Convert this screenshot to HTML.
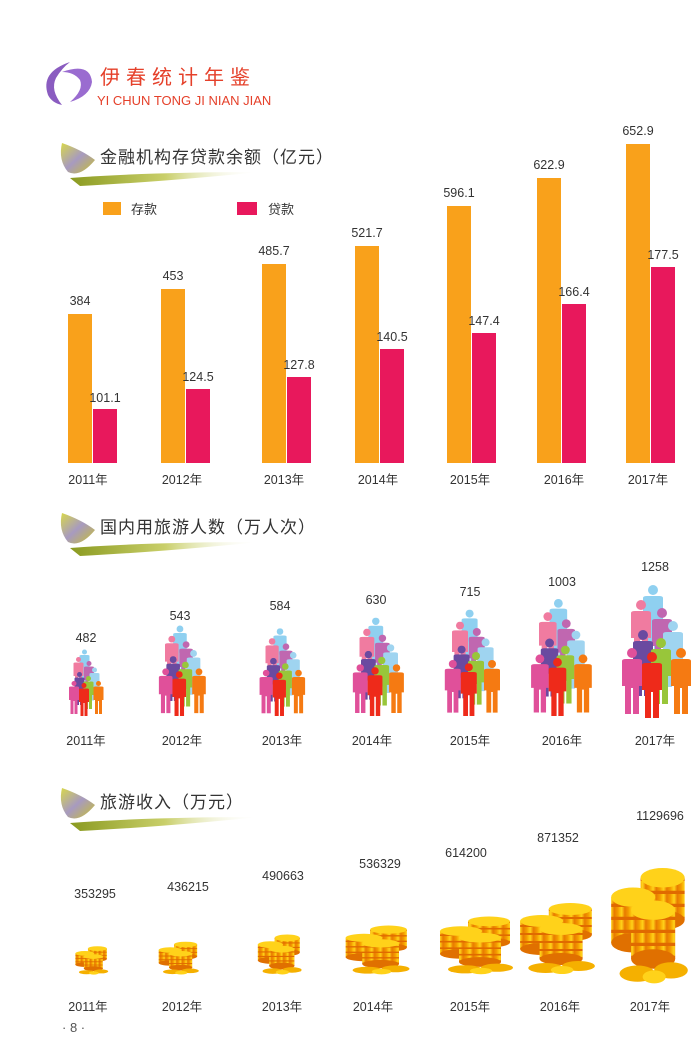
<!DOCTYPE html>
<html><head><meta charset="utf-8"><style>
html,body{margin:0;padding:0;background:#fff;}
svg{display:block;}
text{font-family:"Liberation Sans","Noto Sans CJK SC",sans-serif;}
</style></head><body>
<svg width="700" height="1060" viewBox="0 0 700 1060" xmlns="http://www.w3.org/2000/svg">
<defs>
<linearGradient id="sw" x1="0" x2="1"><stop offset="0" stop-color="#8a9a20"/><stop offset="0.5" stop-color="#c9cf6a"/><stop offset="1" stop-color="#fff" stop-opacity="0"/></linearGradient>
<linearGradient id="leaf" x1="0" y1="0" x2="1" y2="1"><stop offset="0" stop-color="#d8d84a"/><stop offset="0.5" stop-color="#a79ac0"/><stop offset="1" stop-color="#c8c030"/></linearGradient>
<linearGradient id="cs" x1="0" x2="1"><stop offset="0" stop-color="#f7a600"/><stop offset="0.3" stop-color="#ffd21a"/><stop offset="0.6" stop-color="#e87a00"/><stop offset="1" stop-color="#f5a000"/></linearGradient>
<pattern id="st" width="10" height="8" patternUnits="userSpaceOnUse"><rect width="10" height="8" fill="url(#cs)"/><rect y="6" width="10" height="2" fill="#e06a00"/></pattern>
<symbol id="p" viewBox="0 0 24 66">
<circle cx="12" cy="5" r="5"/>
<path d="M2 13 Q2 11 6 11 H18 Q22 11 22 13 V38 H19 V66 H13 V40 H11 V66 H5 V38 H2 Z"/>
</symbol>
<symbol id="pile" viewBox="0 0 80 80" preserveAspectRatio="none">
<rect x="31" y="14" width="42" height="26" fill="url(#st)"/><ellipse cx="52" cy="40" rx="21" ry="6" fill="#e07000"/><ellipse cx="52" cy="14" rx="21" ry="6" fill="#ffd21a"/>
<rect x="3" y="26" width="42" height="28" fill="url(#st)"/><ellipse cx="24" cy="54" rx="21" ry="6" fill="#e07000"/><ellipse cx="24" cy="26" rx="21" ry="6" fill="#ffd21a"/>
<rect x="22" y="34" width="42" height="30" fill="url(#st)"/><ellipse cx="43" cy="64" rx="21" ry="6" fill="#e07000"/><ellipse cx="43" cy="34" rx="21" ry="6" fill="#ffd21a"/>
<ellipse cx="28" cy="73" rx="17" ry="5" fill="#f5b000"/><ellipse cx="60" cy="71" rx="16" ry="5" fill="#f5b000"/><ellipse cx="44" cy="75" rx="11" ry="4" fill="#ffd21a"/>
</symbol>
<g id="crowd">
<use href="#p" x="-15" y="-133" width="24" height="66" fill="#8fd0f0"/>
<use href="#p" x="-27" y="-118" width="24" height="66" fill="#f07ba0"/>
<use href="#p" x="-6" y="-110" width="24" height="66" fill="#c067b0"/>
<use href="#p" x="5" y="-97" width="24" height="66" fill="#9fd4f0"/>
<use href="#p" x="-25" y="-88" width="24" height="66" fill="#6a4aa0"/>
<use href="#p" x="-7" y="-80" width="24" height="66" fill="#98c63a"/>
<use href="#p" x="-36" y="-70" width="24" height="66" fill="#e0509a"/>
<use href="#p" x="-16" y="-66" width="24" height="66" fill="#ee2a1a"/>
<use href="#p" x="13" y="-70" width="24" height="66" fill="#f57a12"/>
</g>
<g id="head">
<path d="M62 143 Q58 160 68 172 Q80 178 95 160 Q82 150 62 143 Z" fill="url(#leaf)"/>
<path d="M70 178 Q150 172 260 172 Q160 182 80 186 Z" fill="url(#sw)"/>
</g>
</defs>

<path d="M70 62 Q40 72 48 95 Q52 103 62 105 Q50 90 56 78 Q62 68 70 62 Z" fill="#8a5cc0"/>
<path d="M62 72 Q90 62 92 82 Q90 96 70 102 Q84 90 80 80 Q74 72 62 72 Z" fill="#9a6cd0"/>
<text x="100" y="84" font-size="20" fill="#e5402a" letter-spacing="6">伊春统计年鉴</text>
<text x="97" y="105" font-size="13" fill="#e5402a">YI CHUN TONG JI NIAN JIAN</text>

<use href="#head"/>
<text x="100" y="163" font-size="17" fill="#333" letter-spacing="1">金融机构存贷款余额（亿元）</text>
<rect x="103" y="202" width="18" height="13" fill="#f9a11b"/><text x="131" y="214" font-size="13" fill="#333">存款</text>
<rect x="237" y="202" width="20" height="13" fill="#e8185c"/><text x="268" y="214" font-size="13" fill="#333">贷款</text>
<g font-size="12.5" fill="#333" text-anchor="middle">
<rect x="68" y="314" width="24" height="149" fill="#f9a11b"/><rect x="93" y="409" width="24" height="54" fill="#e8185c"/>
<text x="80" y="305">384</text><text x="105" y="402">101.1</text><text x="88" y="484">2011年</text>
<rect x="161" y="289" width="24" height="174" fill="#f9a11b"/><rect x="186" y="389" width="24" height="74" fill="#e8185c"/>
<text x="173" y="280">453</text><text x="198" y="381">124.5</text><text x="182" y="484">2012年</text>
<rect x="262" y="264" width="24" height="199" fill="#f9a11b"/><rect x="287" y="377" width="24" height="86" fill="#e8185c"/>
<text x="274" y="255">485.7</text><text x="299" y="369">127.8</text><text x="284" y="484">2013年</text>
<rect x="355" y="246" width="24" height="217" fill="#f9a11b"/><rect x="380" y="349" width="24" height="114" fill="#e8185c"/>
<text x="367" y="237">521.7</text><text x="392" y="341">140.5</text><text x="378" y="484">2014年</text>
<rect x="447" y="206" width="24" height="257" fill="#f9a11b"/><rect x="472" y="333" width="24" height="130" fill="#e8185c"/>
<text x="459" y="197">596.1</text><text x="484" y="325">147.4</text><text x="470" y="484">2015年</text>
<rect x="537" y="178" width="24" height="285" fill="#f9a11b"/><rect x="562" y="304" width="24" height="159" fill="#e8185c"/>
<text x="549" y="169">622.9</text><text x="574" y="296">166.4</text><text x="564" y="484">2016年</text>
<rect x="626" y="144" width="24" height="319" fill="#f9a11b"/><rect x="651" y="267" width="24" height="196" fill="#e8185c"/>
<text x="638" y="135">652.9</text><text x="663" y="259">177.5</text><text x="648" y="484">2017年</text>
</g>

<use href="#head" transform="translate(0,370)"/>
<text x="100" y="533" font-size="17" fill="#333" letter-spacing="1">国内用旅游人数（万人次）</text>
<g font-size="12.5" fill="#333" text-anchor="middle">
<use href="#crowd" transform="translate(86,716) scale(0.5)"/><text x="86" y="642">482</text><text x="86" y="745">2011年</text>
<use href="#crowd" transform="translate(182,716) scale(0.68)"/><text x="180" y="620">543</text><text x="182" y="745">2012年</text>
<use href="#crowd" transform="translate(282,716) scale(0.66)"/><text x="280" y="610">584</text><text x="282" y="745">2013年</text>
<use href="#crowd" transform="translate(378,716) scale(0.74)"/><text x="376" y="604">630</text><text x="372" y="745">2014年</text>
<use href="#crowd" transform="translate(472,716) scale(0.8)"/><text x="470" y="596">715</text><text x="470" y="745">2015年</text>
<use href="#crowd" transform="translate(561,716) scale(0.88)"/><text x="562" y="586">1003</text><text x="562" y="745">2016年</text>
<use href="#crowd" transform="translate(656,718) scale(1)"/><text x="655" y="571">1258</text><text x="655" y="745">2017年</text>
</g>

<use href="#head" transform="translate(0,645)"/>
<text x="100" y="808" font-size="17" fill="#333" letter-spacing="1">旅游收入（万元）</text>
<g font-size="12.5" fill="#333" text-anchor="middle">
<use href="#pile" x="74" y="943" width="36" height="32"/><text x="95" y="898">353295</text><text x="88" y="1011">2011年</text>
<use href="#pile" x="157" y="938" width="44" height="37"/><text x="188" y="891">436215</text><text x="182" y="1011">2012年</text>
<use href="#pile" x="256" y="930" width="48" height="45"/><text x="283" y="880">490663</text><text x="282" y="1011">2013年</text>
<use href="#pile" x="343" y="920" width="70" height="55"/><text x="380" y="868">536329</text><text x="373" y="1011">2014年</text>
<use href="#pile" x="437" y="910" width="80" height="65"/><text x="466" y="857">614200</text><text x="470" y="1011">2015年</text>
<use href="#pile" x="517" y="895" width="82" height="80"/><text x="558" y="842">871352</text><text x="560" y="1011">2016年</text>
<use href="#pile" x="608" y="855" width="84" height="130"/><text x="660" y="820">1129696</text><text x="650" y="1011">2017年</text>
</g>
<text x="62" y="1032" font-size="13" fill="#555" font-family="Liberation Serif,serif">· 8 ·</text>
</svg>
</body></html>
